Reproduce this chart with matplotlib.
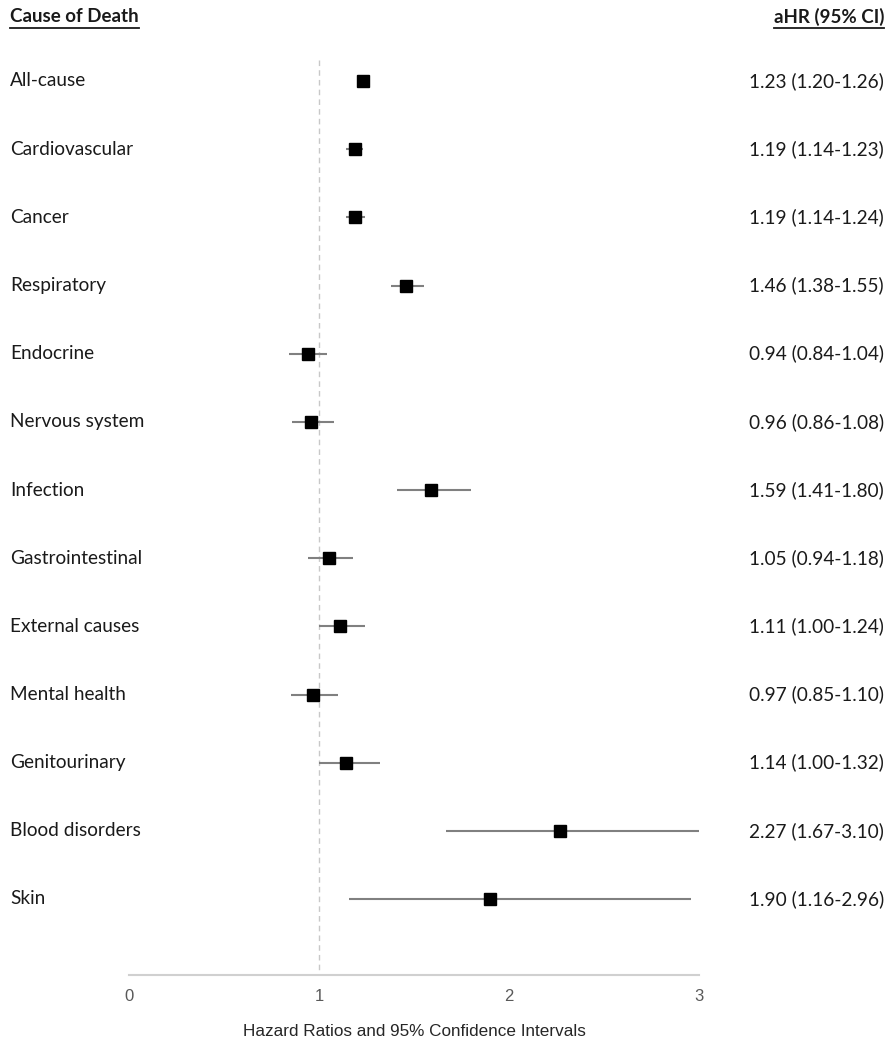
import matplotlib
matplotlib.use("Agg")
import matplotlib.pyplot as plt
from matplotlib.lines import Line2D

causes = ["All-cause", "Cardiovascular", "Cancer", "Respiratory", "Endocrine",
          "Nervous system", "Infection", "Gastrointestinal", "External causes",
          "Mental health", "Genitourinary", "Blood disorders", "Skin"]
hr = [1.23, 1.19, 1.19, 1.46, 0.94, 0.96, 1.59, 1.05, 1.11, 0.97, 1.14, 2.27, 1.90]
lo = [1.20, 1.14, 1.14, 1.38, 0.84, 0.86, 1.41, 0.94, 1.00, 0.85, 1.00, 1.67, 1.16]
hi = [1.26, 1.23, 1.24, 1.55, 1.04, 1.08, 1.80, 1.18, 1.24, 1.10, 1.32, 3.10, 2.96]
labels = ["1.23 (1.20-1.26)", "1.19 (1.14-1.23)", "1.19 (1.14-1.24)", "1.46 (1.38-1.55)",
          "0.94 (0.84-1.04)", "0.96 (0.86-1.08)", "1.59 (1.41-1.80)", "1.05 (0.94-1.18)",
          "1.11 (1.00-1.24)", "0.97 (0.85-1.10)", "1.14 (1.00-1.32)", "2.27 (1.67-3.10)",
          "1.90 (1.16-2.96)"]
xticks = [0, 1, 2, 3]

W, H = 896, 1050
fig = plt.figure(figsize=(W / 100, H / 100), dpi=100)

row0_px, rowstep_px = 81, (899 - 81) / 12
ax_left_px, ax_right_px = 129, 699
ax_top_px, ax_bot_px = 40, 975
ax = fig.add_axes([ax_left_px / W, 1 - ax_bot_px / H,
                   (ax_right_px - ax_left_px) / W, (ax_bot_px - ax_top_px) / H])
ytop = (ax_top_px - row0_px) / rowstep_px
ybot = (ax_bot_px - row0_px) / rowstep_px
ax.set_xlim(0, 3)
ax.set_ylim(ybot, ytop)

ys = list(range(len(causes)))
for y, l, h in zip(ys, lo, hi):
    ax.plot([l, min(h, 3)], [y, y], color="#808080", lw=1.5, solid_capstyle="butt",
            zorder=2)
ax.plot(hr, ys, "s", color="black", ms=8.3, zorder=3, linestyle="none")
ax.plot([1, 1], [(60 - row0_px) / rowstep_px, ybot], color="#c8c8c8", lw=1,
        linestyle=(0, (4, 3)), zorder=1)

for s in ["top", "right", "left"]:
    ax.spines[s].set_visible(False)
ax.spines["bottom"].set_color("#d0d0d0")
ax.spines["bottom"].set_linewidth(1.5)
ax.set_yticks([])
ax.set_xticks(xticks)
ax.set_xticklabels([str(t) for t in xticks], fontfamily="Liberation Sans", fontsize=12,
                   color="#595959")
ax.tick_params(axis="x", length=0, pad=10)
fig.text((ax_left_px + ax_right_px) / 2 / W, 1 - 1032 / H,
         "Hazard Ratios and 95% Confidence Intervals",
         fontfamily="Liberation Sans", fontsize=12.3, color="#262626",
         ha="center", va="center")

tfont = dict(fontfamily="Lato", fontsize=13.7, color="#1a1a1a")
for y, c, lab in zip(ys, causes, labels):
    ax.text(10 / W, 1 - (row0_px + y * rowstep_px) / H, c, transform=fig.transFigure,
            ha="left", va="center", **tfont)
    ax.text(884 / W, 1 - (row0_px + y * rowstep_px) / H, lab, transform=fig.transFigure,
            ha="right", va="center", **tfont)

hfont = dict(fontfamily="Lato", fontsize=13.5, color="#1a1a1a", fontweight="bold")
h1 = fig.text(10 / W, 1 - 17 / H, "Cause of Death", ha="left", va="center", **hfont)
h2 = fig.text(884 / W, 1 - 17 / H, "aHR (95% CI)", ha="right", va="center", **hfont)

fig.canvas.draw()
r = fig.canvas.get_renderer()
for t in (h1, h2):
    bb = t.get_window_extent(renderer=r)
    yl = 1 - 28 / H
    fig.add_artist(Line2D([bb.x0 / W, bb.x1 / W], [yl, yl], color="#1a1a1a", lw=1.3,
                          transform=fig.transFigure))

fig.savefig("out.png", dpi=100)
